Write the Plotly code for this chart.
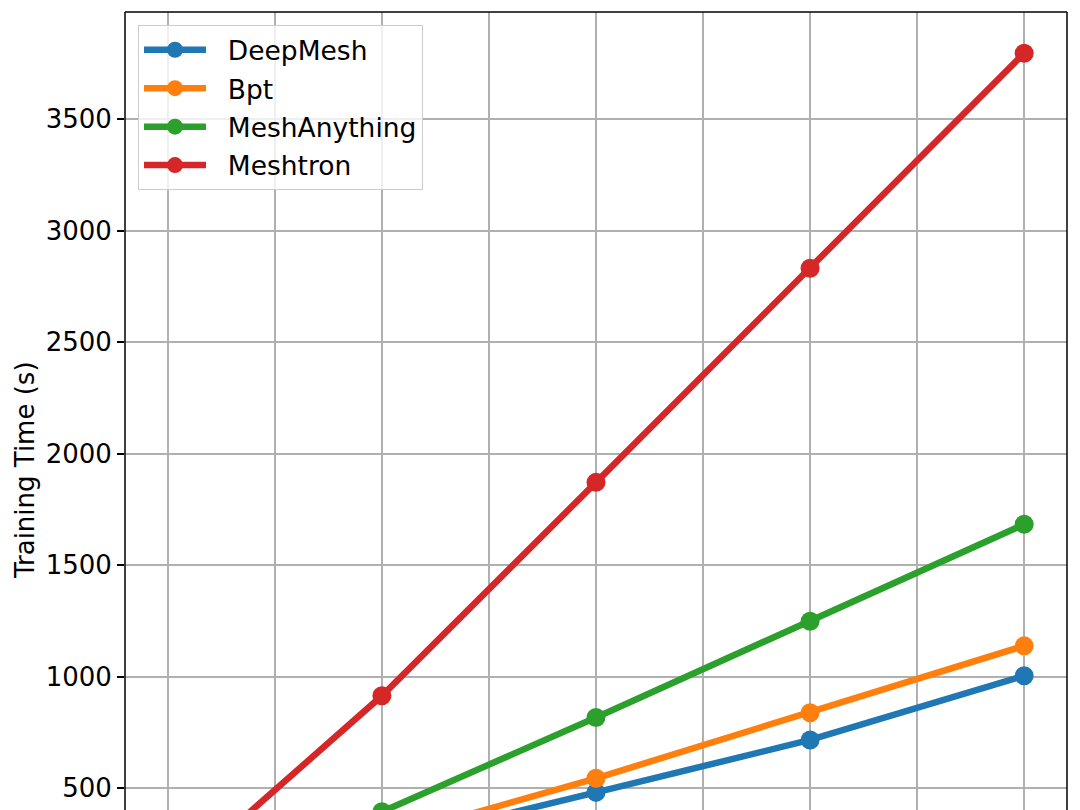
import plotly.graph_objects as go

steps = [0, 1, 2, 3, 4]
deepmesh = [120, 250, 482, 717, 1005]
bpt = [140, 272, 545, 839, 1139]
meshanything = [190, 395, 818, 1249, 1684]
meshtron = [70, 915, 1872, 2832, 3796]

series = [
    ("DeepMesh", deepmesh, "#1f77b4"),
    ("Bpt", bpt, "#ff7f0e"),
    ("MeshAnything", meshanything, "#2ca02c"),
    ("Meshtron", meshtron, "#d62728"),
]

fig = go.Figure()
for name, vals, col in series:
    fig.add_trace(go.Scatter(
        x=steps, y=vals, name="  " + name, mode="lines+markers", legendgroup=name,
        line=dict(color=col, width=6.5),
        marker=dict(color=col, size=19),
    ))

# frame: left, top, right (bottom is cropped away)
for x0, y0, x1, y1 in [(0, 0, 0, 1), (0, 1, 1, 1), (1, 0, 1, 1)]:
    fig.add_shape(type="line", xref="paper", yref="paper",
                  x0=x0, y0=y0, x1=x1, y1=y1,
                  line=dict(color="black", width=1.5))

fig.add_annotation(
    text="Training Time (s)", textangle=-90, showarrow=False,
    xref="paper", yref="paper", x=0, y=0.426, xshift=-100,
    xanchor="center", yanchor="middle",
    font=dict(family="DejaVu Sans", size=26, color="black"),
)

# page has an 8px body margin, so margins are shifted to compensate
fig.update_layout(
    width=1080, height=810,
    margin=dict(l=117, r=21, t=4, b=8),
    paper_bgcolor="white", plot_bgcolor="white",
    font=dict(family="DejaVu Sans", size=26, color="black"),
    showlegend=True,
    legend=dict(
        x=0.0138, y=0.9837, xanchor="left", yanchor="top",
        bgcolor="rgba(255,255,255,0.8)", bordercolor="#cccccc", borderwidth=1,
        font=dict(family="DejaVu Sans", size=26.5), itemwidth=62, tracegroupgap=1,
    ),
)
fig.update_xaxes(range=[-0.2, 4.2], dtick=0.5, tick0=0, showticklabels=False,
                 showgrid=True, gridcolor="#b0b0b0", gridwidth=1.5,
                 zeroline=False, ticks="")
fig.update_yaxes(range=[403, 3981], tickvals=[500, 1000, 1500, 2000, 2500, 3000, 3500],
                 tickfont=dict(family="DejaVu Sans", size=26, color="black"),
                 showgrid=True, gridcolor="#b0b0b0", gridwidth=1.5,
                 zeroline=False, ticks="outside", ticklen=7, tickwidth=1.5,
                 tickcolor="black", ticklabelstandoff=0)

fig.write_html("out.html")
